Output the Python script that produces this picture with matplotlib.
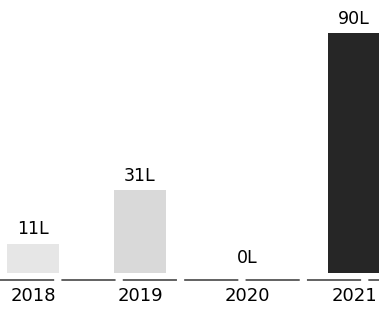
"""
Bar chart: yearly totals (in L)
"""
import matplotlib
matplotlib.use('Agg')
import matplotlib.pyplot as plt

# data
years = ['2018', '2019', '2020', '2021']
values = [11, 31, 0, 90]
value_labels = ['11L', '31L', '0L', '90L']
bar_colors = ['#e6e6e6', '#d9d9d9', '#ededed', '#262626']

fig = plt.figure(figsize=(3.79, 3.11), dpi=100)
# axes fills width, bottom edge a bit above the year labels
ax = fig.add_axes([0, 30 / 311, 1, 281 / 311])

x = list(range(len(years)))
bars = ax.bar(x, values, width=0.49, color=bar_colors, linewidth=0)

# value labels above the bars
for rect, lab in zip(bars, value_labels):
    ax.annotate(lab, (rect.get_x() + rect.get_width() / 2, rect.get_height()),
                xytext=(0, 4), textcoords='offset points',
                ha='center', va='bottom', fontsize=12.5, color='#000000')

# baseline, greyish and broken like the scan
ax.axhline(-2.7, color='#555555', linewidth=1.3, linestyle=(0, (30, 4)))

ax.set_xlim(-0.308, 3.234)
ax.set_ylim(-3.0, 102.4)
ax.set_xticks(x)
ax.set_xticklabels(years, fontsize=13, color='#000000')
ax.tick_params(axis='x', length=0, pad=4)
ax.set_yticks([])
for s in ax.spines.values():
    s.set_visible(False)

fig.savefig('out.png', dpi=100)
plt.close(fig)
